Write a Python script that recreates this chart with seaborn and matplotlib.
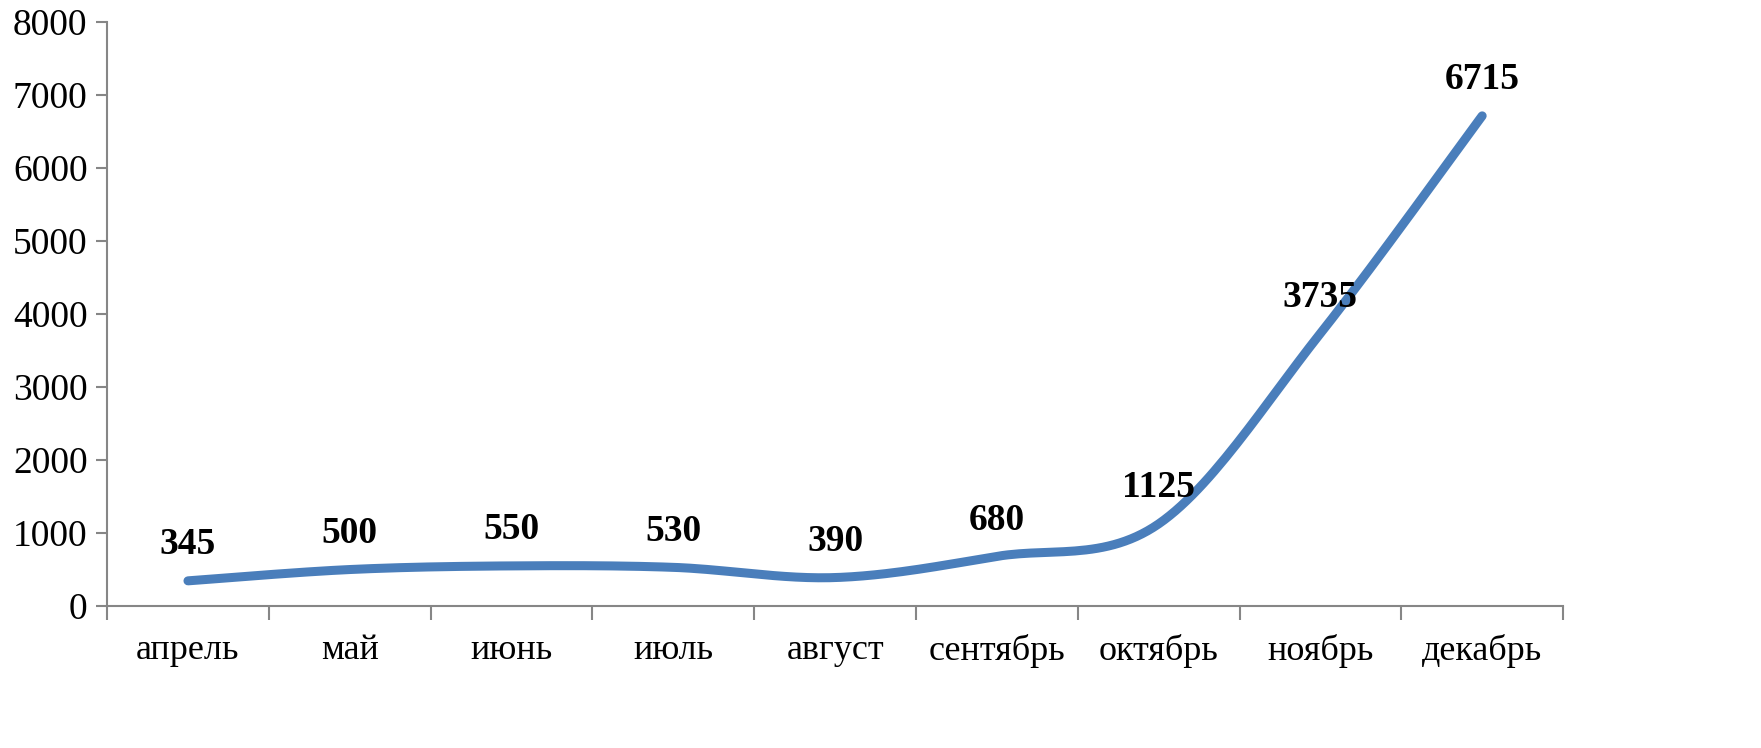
import numpy as np
import pandas as pd
import matplotlib
matplotlib.use('Agg')
import matplotlib.pyplot as plt
import seaborn as sns

# Данные
months = ['апрель', 'май', 'июнь', 'июль', 'август', 'сентябрь', 'октябрь', 'ноябрь', 'декабрь']
values = [345, 500, 550, 530, 390, 680, 1125, 3735, 6715]

sns.set_style('white')
plt.rcParams['font.family'] = ['Liberation Serif', 'DejaVu Serif']


def smooth(x, y, n=30):
    # сглаживание как в Excel (кривая Безье через точки, Catmull-Rom)
    x = np.asarray(x, float)
    y = np.asarray(y, float)
    px = np.concatenate([[x[0]], x, [x[-1]]])
    py = np.concatenate([[y[0]], y, [y[-1]]])
    xs, ys = [], []
    t = np.linspace(0, 1, n)
    for i in range(1, len(px) - 2):
        p0, p1, p2, p3 = px[i - 1], px[i], px[i + 1], px[i + 2]
        q0, q1, q2, q3 = py[i - 1], py[i], py[i + 1], py[i + 2]
        b1x, b1y = p1 + (p2 - p0) / 6, q1 + (q2 - q0) / 6
        b2x, b2y = p2 - (p3 - p1) / 6, q2 - (q3 - q1) / 6
        bx = (1 - t) ** 3 * p1 + 3 * (1 - t) ** 2 * t * b1x + 3 * (1 - t) * t ** 2 * b2x + t ** 3 * p2
        by = (1 - t) ** 3 * q1 + 3 * (1 - t) ** 2 * t * b1y + 3 * (1 - t) * t ** 2 * b2y + t ** 3 * q2
        xs.extend(bx)
        ys.extend(by)
    return np.array(xs), np.array(ys)


pos = np.arange(len(months))
sx, sy = smooth(pos, values)
curve = pd.DataFrame({'x': sx, 'y': sy})

fig = plt.figure(figsize=(17.61, 7.48), dpi=100)
ax = fig.add_axes([0.0608, 0.1898, 0.8268, 0.7807])

sns.lineplot(data=curve, x='x', y='y', ax=ax, color='#4A7EBB', linewidth=6.5,
             solid_capstyle='round', sort=False, estimator=None)

for i, v in enumerate(values):
    ax.annotate(str(v), (pos[i], v), xytext=(0, 26), textcoords='offset points',
                ha='center', va='center', fontsize=27, fontweight='bold', color='black')

ax.set_xlim(-0.5, len(months) - 0.5)
ax.set_ylim(0, 8000)
ax.set_yticks(range(0, 8001, 1000))
ax.set_xticks(pos)
ax.set_xticklabels(months)
ax.set_xticks(np.arange(-0.5, len(months), 1), minor=True)
ax.tick_params(bottom=True, left=True, labelcolor='black')
ax.tick_params(axis='x', which='major', length=0, labelsize=26, pad=20)
ax.tick_params(axis='x', which='minor', bottom=True, length=10, width=1.5, color='#868686', direction='out')
ax.tick_params(axis='y', length=8, width=1.5, color='#868686', direction='out', labelsize=27, pad=6)
ax.set_xlabel('')
ax.set_ylabel('')

for s in ['top', 'right']:
    ax.spines[s].set_visible(False)
for s in ['left', 'bottom']:
    ax.spines[s].set_color('#868686')
    ax.spines[s].set_linewidth(1.5)

fig.savefig('out.png', dpi=100)
